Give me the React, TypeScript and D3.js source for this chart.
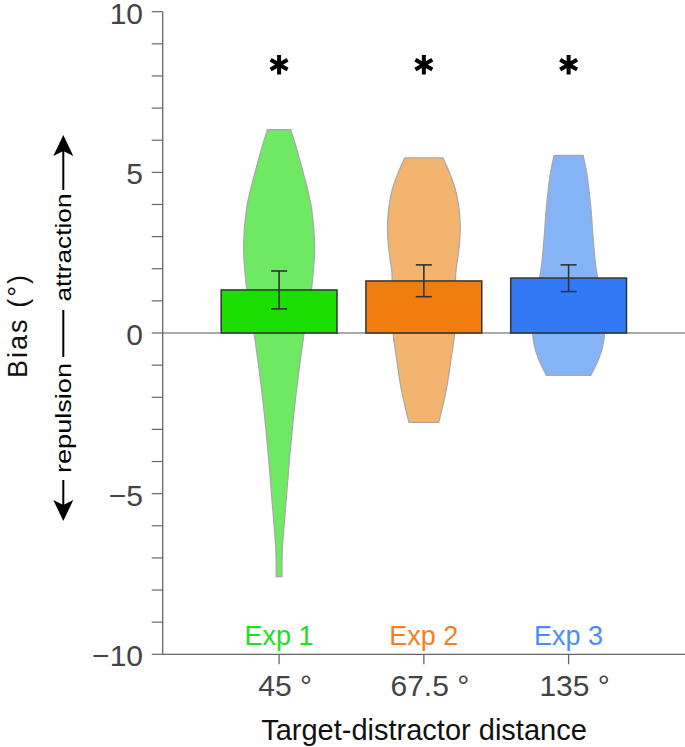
import React from 'react';
import * as d3 from 'd3';

const categories = ['45 °', '67.5 °', '135 °'];
const experiments = ['Exp 1', 'Exp 2', 'Exp 3'];
const meanBias = [1.34, 1.62, 1.71];
const errLow = [0.75, 1.13, 1.29];
const errHigh = [1.93, 2.12, 2.12];
const significance = ['*', '*', '*'];
const yTicksMajor = [-10, -5, 0, 5, 10];

// violin profiles: bias value -> relative density
const violin1Values = [6.33, 5.9, 5.18, 4.4, 3.84, 2.69, 1.88, 1.35, 0, -2.07, -4.15, -5.7, -6.74, -7.58];
const violin1Density = [0.32, 0.44, 0.62, 0.8, 0.9, 0.98, 0.94, 0.89, 0.69, 0.45, 0.27, 0.16, 0.09, 0.08];
const violin2Values = [5.45, 4.98, 4.46, 3.94, 3.42, 2.9, 2.38, 1.87, 0, -0.73, -1.76, -2.78];
const violin2Density = [0.53, 0.71, 0.87, 0.96, 1.0, 0.99, 0.94, 0.88, 0.85, 0.76, 0.62, 0.41];
const violin3Values = [5.53, 4.98, 3.94, 2.9, 2.07, 1.72, 0, -0.42, -0.83, -1.32];
const violin3Density = [0.4, 0.5, 0.61, 0.68, 0.75, 0.8, 0.99, 0.94, 0.82, 0.61];

const barColors = ['#1ade00', '#f07d0e', '#3379f5'];
const violinColors = ['#6fe864', '#f2b46e', '#84b4f6'];
const labelColors = ['#22dd22', '#f57f20', '#4a8cff'];

const W = 685;
const H = 747;
const FONT = '"Liberation Sans", Arial, Helvetica, sans-serif';

export default function App() {
  const y = d3.scaleLinear().domain([-10, 10]).range([654.3, 11.7]);
  const axisX = 162.7;
  const x = d3
    .scaleBand<string>()
    .domain(categories)
    .range([axisX, W])
    .paddingInner(0.2)
    .paddingOuter(0.404);
  const w = d3.scaleLinear().domain([0, 1]).range([0, 36.3]);

  const violins = [
    d3.zip(violin1Values, violin1Density),
    d3.zip(violin2Values, violin2Density),
    d3.zip(violin3Values, violin3Density),
  ] as [number, number][][];

  const minorTicks = d3.range(-10, 11, 1);
  const sym = d3.symbol().type(d3.symbolAsterisk).size(270);

  return (
    <svg
      width={W}
      height={H}
      style={{ position: 'absolute', left: 0, top: 0, display: 'block' }}
      fontFamily={FONT}
    >
      <rect x={0} y={0} width={W} height={H} fill="#fff" />
      {/* violins */}
      {violins.map((v, i) => {
        const cx = (x(categories[i]) as number) + x.bandwidth() / 2;
        const area = d3
          .area<[number, number]>()
          .y((d) => y(d[0]))
          .x0((d) => cx - w(d[1]))
          .x1((d) => cx + w(d[1]))
          .curve(d3.curveCatmullRom.alpha(0.5));
        return (
          <path key={'v' + i} d={area(v) as string} fill={violinColors[i]} stroke="#a8a8a8" strokeWidth={1.2} />
        );
      })}
      {/* zero line */}
      <line x1={axisX} x2={W} y1={y(0)} y2={y(0)} stroke="#555" strokeWidth={1.2} />
      {/* bars */}
      {meanBias.map((m, i) => (
        <rect
          key={'b' + i}
          x={x(categories[i]) as number}
          y={y(m)}
          width={x.bandwidth()}
          height={y(0) - y(m)}
          fill={barColors[i]}
          stroke="#333"
          strokeWidth={1.5}
        />
      ))}
      {/* error bars */}
      {meanBias.map((m, i) => {
        const cx = (x(categories[i]) as number) + x.bandwidth() / 2;
        return (
          <g key={'e' + i} stroke="#333" strokeWidth={1.6}>
            <line x1={cx} x2={cx} y1={y(errLow[i])} y2={y(errHigh[i])} />
            <line x1={cx - 8} x2={cx + 8} y1={y(errLow[i])} y2={y(errLow[i])} />
            <line x1={cx - 8} x2={cx + 8} y1={y(errHigh[i])} y2={y(errHigh[i])} />
          </g>
        );
      })}
      {/* significance asterisks */}
      {significance.map((s, i) => {
        const cx = (x(categories[i]) as number) + x.bandwidth() / 2;
        return (
          <path
            key={'s' + i}
            d={sym() as string}
            transform={`translate(${cx},${y(8.35)})`}
            fill="none"
            stroke="#000"
            strokeWidth={4}
          >
            <title>{s}</title>
          </path>
        );
      })}
      {/* y axis */}
      <line x1={axisX} x2={axisX} y1={y(10)} y2={y(-10)} stroke="#666" strokeWidth={1.3} />
      {minorTicks.map((t) => (
        <line key={'t' + t} x1={axisX - 11} x2={axisX} y1={y(t)} y2={y(t)} stroke="#666" strokeWidth={1.2} />
      ))}
      {yTicksMajor.map((t) => (
        <text
          key={'yl' + t}
          x={143}
          y={y(t) + 12}
          textAnchor="end"
          fontSize={30}
          fill="#444"
        >
          {t < 0 ? '\u2212' + Math.abs(t) : String(t)}
        </text>
      ))}
      {/* x axis */}
      <line x1={axisX} x2={W} y1={y(-10)} y2={y(-10)} stroke="#666" strokeWidth={1.3} />
      {categories.map((c, i) => {
        const cx = (x(c) as number) + x.bandwidth() / 2;
        return (
          <g key={'x' + i}>
            <line x1={cx} x2={cx} y1={y(-10)} y2={y(-10) + 10} stroke="#666" strokeWidth={1.3} />
            <text x={cx + 6} y={696} textAnchor="middle" fontSize={30} fill="#444">
              {c}
            </text>
            <text x={cx} y={645} textAnchor="middle" fontSize={27} fill={labelColors[i]}>
              {experiments[i]}
            </text>
          </g>
        );
      })}
      <text x={424} y={740} textAnchor="middle" fontSize={29} fill="#111">
        Target-distractor distance
      </text>
      {/* y axis title */}
      <text
        transform="translate(27,326.5) rotate(-90)"
        textAnchor="middle"
        fontSize={27}
        fill="#111"
        textLength={103}
        lengthAdjust="spacing"
      >
        Bias (°)
      </text>
      {/* direction annotation */}
      <g fill="#000">
        <text
          transform="translate(71,247.5) rotate(-90)"
          textAnchor="middle"
          fontSize={22}
          textLength={108}
          lengthAdjust="spacingAndGlyphs"
        >
          attraction
        </text>
        <text
          transform="translate(71,418) rotate(-90)"
          textAnchor="middle"
          fontSize={22}
          textLength={110}
          lengthAdjust="spacingAndGlyphs"
        >
          repulsion
        </text>
        <line x1={63.3} x2={63.3} y1={310} y2={357} stroke="#000" strokeWidth={2} />
        <line x1={63.3} x2={63.3} y1={150} y2={190} stroke="#000" strokeWidth={2} />
        <line x1={63.3} x2={63.3} y1={480} y2={505} stroke="#000" strokeWidth={2} />
        <path d="M63.3,135 L73.3,156 L63.3,151 L53.3,156 Z" />
        <path d="M63.3,521 L73.3,500 L63.3,505 L53.3,500 Z" />
      </g>
    </svg>
  );
}
